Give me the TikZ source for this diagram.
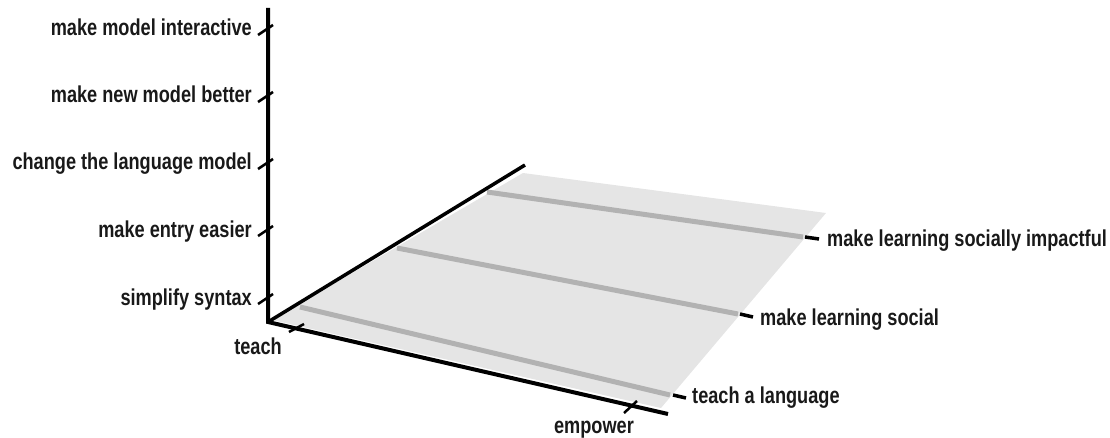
\documentclass[tikz,border=0pt]{standalone}
\usepackage{fontspec}
\setmainfont{Liberation Sans}[FakeStretch=0.79]
\usetikzlibrary{positioning, calc}
\tikzset{
    axisline/.style={line width=4pt, black},
    tickmark/.style={line width=2.5pt, black},
    band/.style={line width=5pt, black!30},
    lbl/.style={font=\fontsize{23}{26}\selectfont\bfseries, inner sep=0pt, text=black!90}
}

\begin{document}
\begin{tikzpicture}[x=1pt, y=-1pt]
    \useasboundingbox (0,0) rectangle (1110,438);

    % Corners of the plot
    \coordinate (O) at (268,322);
    \coordinate (vtop) at (268,8);
    \coordinate (dtop) at (525,165);
    \coordinate (hend) at (668,414);

    % Plane
    \fill[black!10] (272,320) -- (523,173) -- (826,213) -- (661,408) -- cycle;

    % Bands in the plane
    \coordinate (s1a) at (300,307); \coordinate (s1b) at (670,395);
    \coordinate (s2a) at (397,248); \coordinate (s2b) at (738,314);
    \coordinate (s3a) at (487,192); \coordinate (s3b) at (803,237);
    \draw[band] (s1a) -- (s1b);
    \draw[band] (s2a) -- (s2b);
    \draw[band] (s3a) -- (s3b);

    % Axes
    \draw[axisline] (vtop) -- (O) -- (hend);
    \draw[axisline, line width=3.5pt] (O) -- (dtop);

    % Vertical axis: ticks and labels
    \foreach \yb/\txt [count=\i] in {36/make model interactive, 103/make new model better,
        170/change the language model, 237/make entry easier, 305/simplify syntax} {
        \draw[tickmark] (258,\yb-1) -- (273,\yb-11);
        \node[lbl, anchor=base east] (goal\i) at (252,\yb) {\txt};
    }

    % Front axis: ticks and labels
    \draw[tickmark] (289,332) -- (304,324);
    \draw[tickmark] (624,413) -- (637,401);
    \node[lbl, anchor=base] (teach) at (258,354) {teach};
    \node[lbl, anchor=base] (empower) at (594,433) {empower};

    % Band ends: dashes and labels
    \draw[tickmark, line width=3.5pt] ($(s1b)+(3,0)$) -- ($(s1b)+(16,3)$);
    \draw[tickmark, line width=3.5pt] ($(s2b)+(2,0)$) -- ($(s2b)+(15,3)$);
    \draw[tickmark, line width=3.5pt] ($(s3b)+(2,0)$) -- ($(s3b)+(16,2)$);
    \node[lbl, anchor=base west] (band1) at (692,403) {teach a language};
    \node[lbl, anchor=base west] (band2) at (760,325) {make learning social};
    \node[lbl, anchor=base west] (band3) at (827,247) {make learning socially impactful};
\end{tikzpicture}
\end{document}
